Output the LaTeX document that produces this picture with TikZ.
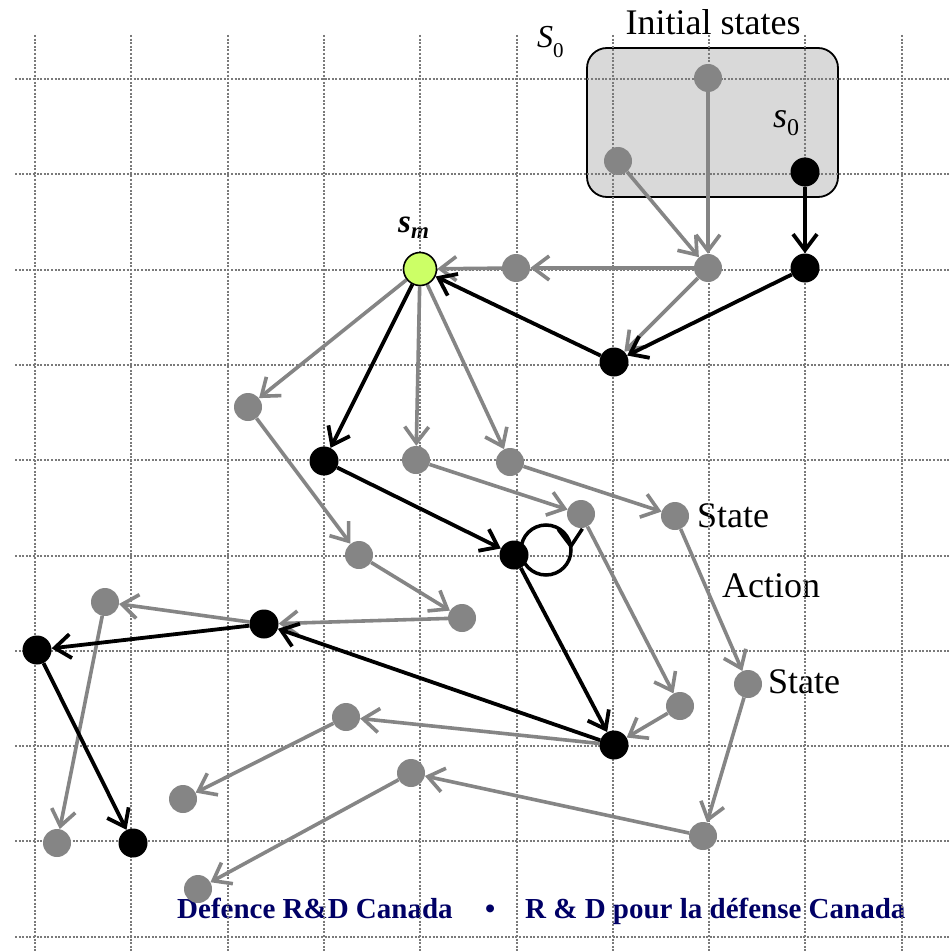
\documentclass[tikz,border=0pt]{standalone}
\usepackage{fontspec}
\setmainfont{Liberation Serif}
\usetikzlibrary{arrows.meta,decorations.markings}

\definecolor{stategray}{HTML}{858585}
\definecolor{startgreen}{HTML}{CCFF66}
\definecolor{boxgray}{HTML}{D9D9D9}
\definecolor{drdcnavy}{HTML}{000066}
\definecolor{gridgray}{HTML}{7A7A7A}

\pgfdeclarelayer{back}
\pgfdeclarelayer{links}
\pgfsetlayers{back,links,main}

\begin{document}
\begin{tikzpicture}[x=1pt,y=-1pt,
  gridline/.style={draw=gridgray, line width=2pt, dash pattern=on 2pt off 1.6pt},
  gstate/.style={circle, fill=stategray, minimum size=28pt, inner sep=0pt},
  bstate/.style={circle, fill=black, minimum size=29pt, inner sep=0pt},
  mstate/.style={circle, fill=startgreen, draw=black, line width=1.6pt, minimum size=33pt, inner sep=0pt},
  tipstyle/.style={-{Straight Barb[length=16pt,width=24pt]}},
  gact/.style={draw=stategray, line width=3.6pt, tipstyle},
  bact/.style={draw=black, line width=3.8pt, tipstyle},
  lbl/.style={inner sep=0pt, font=\fontsize{36}{36}\selectfont},
  footer/.style={inner sep=0pt, anchor=base west, text=drdcnavy,
    font=\fontsize{29}{29}\selectfont\bfseries}
]
\useasboundingbox (0,0) rectangle (950,952);

\begin{pgfonlayer}{back}
  \fill[white] (0,0) rectangle (950,952);
  % set of initial states
  \draw[fill=boxgray, line width=1.8pt, rounded corners=20pt] (587,48) rectangle (838,197);
  % labels
  \node[lbl, anchor=base] (title) at (713,35) {Initial states};
  \node[inner sep=0pt, anchor=base west] (setlbl) at (537,48)
    {\fontsize{32}{32}\selectfont\itshape S\raisebox{-10pt}{\fontsize{21}{21}\selectfont\upshape 0}};
  \node[inner sep=0pt, anchor=base west] (startlbl) at (773,128)
    {\fontsize{36}{36}\selectfont\itshape s\raisebox{-8pt}{\fontsize{24}{24}\selectfont\upshape 0}};
  \node[inner sep=0pt, anchor=base west] (midlbl) at (398,232)
    {\fontsize{33}{33}\selectfont\bfseries\itshape s\raisebox{-6pt}{\fontsize{23}{23}\selectfont m}};
  \node[lbl, anchor=base west] (state1) at (697,527) {State};
  \node[lbl, anchor=base west] (action) at (722,597) {Action};
  \node[lbl, anchor=base west] (state2) at (768,693) {State};
  \node[footer] (fen) at (177,918) {Defence R\&D Canada};
  \node[footer] (fdot) at (485,918) {•};
  \node[footer] (ffr) at (525,918) {R \& D pour la défense Canada};
  % dotted grid
  \foreach \k in {0,...,9} {
    \draw[gridline] ({35+96.3*\k},35) -- ({35+96.3*\k},952);
    \draw[gridline] (15,{79+95.3*\k}) -- (950,{79+95.3*\k});
  }
\end{pgfonlayer}

% states
\node[gstate] (a)  at (708,78)  {};
\node[gstate] (b)  at (618,161) {};
\node[bstate] (s0) at (805,172) {};
\node[gstate] (c)  at (708,268) {};
\node[bstate] (d)  at (805,268) {};
\node[gstate] (e)  at (516,268) {};
\node[bstate] (f)  at (614,362) {};
\node[mstate] (sm) at (420,269) {};
\node[gstate] (g)  at (248,407) {};
\node[bstate] (h)  at (324,461) {};
\node[gstate] (i)  at (416,460) {};
\node[gstate] (j)  at (359,555) {};
\node[gstate] (k)  at (462,618) {};
\node[bstate] (l)  at (264,624) {};
\node[gstate] (m)  at (105,602) {};
\node[bstate] (n)  at (37,650)  {};
\node[gstate] (o)  at (510,462) {};
\node[gstate] (p)  at (581,514) {};
\node[gstate] (q)  at (675,516) {};
\node[bstate] (r)  at (514,555) {};
\node[gstate] (s)  at (748,684) {};
\node[gstate] (t)  at (680,706) {};
\node[bstate] (u)  at (614,745) {};
\node[gstate] (v)  at (346,717) {};
\node[gstate] (w)  at (183,799) {};
\node[gstate] (x)  at (57,843)  {};
\node[bstate] (y)  at (133,843) {};
\node[gstate] (z)  at (411,773) {};
\node[gstate] (aa) at (198,889) {};
\node[gstate] (bb) at (703,836) {};

\begin{pgfonlayer}{links}
  % other possible transitions
  \draw[gact] (a) -- (c);
  \draw[gact] (b) -- (c);
  \draw[gact] (c) -- (e);
  \draw[gact] (e) -- (sm);
  \draw[gact] (c) -- (f);
  \draw[gact] (sm) -- (g);
  \draw[gact] (sm) -- (i);
  \draw[gact] (sm) -- (o);
  \draw[gact] (g) -- (j);
  \draw[gact] (j) -- (k);
  \draw[gact] (k) -- (l);
  \draw[gact] (l) -- (m);
  \draw[gact] (m) -- (x);
  \draw[gact] (o) -- (q);
  \draw[gact] (i) -- (p);
  \draw[gact] (p) -- (t);
  \draw[gact] (q) -- (s);
  \draw[gact] (t) -- (u);
  \draw[gact] (u) -- (v);
  \draw[gact] (v) -- (w);
  \draw[gact] (s) -- (bb);
  \draw[gact] (bb) -- (z);
  \draw[gact] (z) -- (aa);
  % trajectory followed from s0
  \draw[bact] (s0) -- (d);
  \draw[bact] (d) -- (f);
  \draw[bact] (f) -- (sm);
  \draw[bact] (sm) -- (h);
  \draw[bact] (h) -- (r);
  \draw[bact] (r) -- (u);
  \draw[bact] (u) -- (l);
  \draw[bact] (l) -- (n);
  \draw[bact] (n) -- (y);
  % self transition
  \draw[line width=3.5pt, postaction={decorate},
    decoration={markings, mark=at position 0.995 with {\arrow{Straight Barb[length=17pt,width=24pt]}}}]
    ([xshift=57pt,yshift=5pt]r.center) arc[start angle=0, end angle=-360, radius=25pt];
\end{pgfonlayer}
\end{tikzpicture}
\end{document}
